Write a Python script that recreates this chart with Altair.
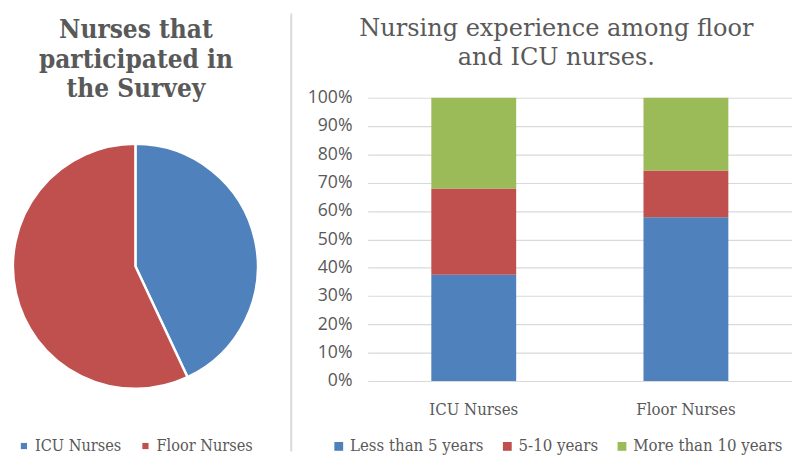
import altair as alt
import pandas as pd

# ---- data ----
pie_categories = ["ICU Nurses", "Floor Nurses"]
pie_values = [43, 57]

bar_groups = ["ICU Nurses", "Floor Nurses"]
exp_levels = ["Less than 5 years", "5-10 years", "More than 10 years"]
icu_shares = [37.5, 30.5, 32.0]
floor_shares = [57.8, 16.5, 25.7]

pie_colors = ["#4f81bd", "#c0504d"]
bar_colors = ["#4f81bd", "#c0504d", "#9bbb59"]

SERIF_C = "DejaVu Serif Condensed"
SERIF = "DejaVu Serif"
SANS = "Open Sans"
TXT = "#595959"
GRID = "#d9d9d9"

pie_df = pd.DataFrame({"group": pie_categories, "value": pie_values,
                       "order": list(range(len(pie_categories)))})

rows = []
for g, shares in zip(bar_groups, [icu_shares, floor_shares]):
    for i, (lvl, s) in enumerate(zip(exp_levels, shares)):
        rows.append({"group": g, "level": lvl, "share": s / 100.0, "order": i})
bar_df = pd.DataFrame(rows)

PLOT_H = 289

# ---- left: pie ----
PIE_W = 267
pie = alt.Chart(pie_df).mark_arc(outerRadius=125, stroke="white", strokeWidth=2.5).encode(
    theta=alt.Theta("value:Q", stack=True),
    color=alt.Color(
        "group:N",
        scale=alt.Scale(domain=pie_categories, range=pie_colors),
        legend=alt.Legend(
            title=None, orient="none", direction="horizontal",
            legendX=2, legendY=347, padding=0,
            symbolType="square", symbolSize=40, symbolStrokeWidth=0,
            labelFont=SERIF_C, labelFontSize=16.5, labelColor=TXT,
            labelOffset=3, columnPadding=16,
        ),
    ),
    order=alt.Order("order:Q"),
    x=alt.value(124),
    y=alt.value(172),
).properties(
    width=PIE_W, height=PLOT_H,
    title=alt.TitleParams(
        ["Nurses that", "participated in", "the Survey"],
        font=SERIF_C, fontSize=26.5, fontWeight="bold", color=TXT,
        lineHeight=30, anchor="middle", offset=-5, dx=-9,
    ),
)

# ---- middle: divider ----
divider = alt.Chart(pd.DataFrame({"d": [0]})).mark_rule(color=GRID, strokeWidth=2).encode(
    x=alt.value(1), y=alt.value(-86), y2=alt.value(361)
).properties(width=2, height=PLOT_H)

# ---- right: stacked 100% bars ----
BAR_W = 433
bars = alt.Chart(bar_df).mark_bar().encode(
    x=alt.X(
        "group:N", sort=bar_groups,
        scale=alt.Scale(paddingInner=0.6, paddingOuter=0.3),
        axis=alt.Axis(title=None, labelAngle=0, domain=False, ticks=False,
                      labelFont=SERIF_C, labelFontSize=17, labelColor=TXT, labelPadding=21),
    ),
    y=alt.Y(
        "share:Q", stack="zero", scale=alt.Scale(domain=[0, 1]),
        axis=alt.Axis(title=None, format=".0%", values=[i / 10 for i in range(11)],
                      domain=False, ticks=False, grid=True, gridColor=GRID, gridWidth=1.2,
                      labelFont=SANS, labelFontSize=18, labelColor=TXT, labelPadding=16),
    ),
    color=alt.Color(
        "level:N",
        scale=alt.Scale(domain=exp_levels, range=bar_colors),
        legend=alt.Legend(
            title=None, orient="none", direction="horizontal",
            legendX=-38, legendY=347, padding=0,
            symbolType="square", symbolSize=81, symbolStrokeWidth=0,
            labelFont=SERIF_C, labelFontSize=17, labelColor=TXT,
            labelOffset=3, columnPadding=15,
        ),
    ),
    order=alt.Order("order:Q"),
).properties(
    width=BAR_W, height=PLOT_H,
    title=alt.TitleParams(
        ["Nursing experience among floor", "and ICU nurses."],
        font=SERIF, fontSize=24.5, fontWeight="normal", color=TXT,
        lineHeight=30, anchor="middle", offset=19, dx=-24,
    ),
)

chart = alt.hconcat(pie, divider, bars, spacing=15).resolve_scale(
    color="independent"
).configure_view(stroke=None).properties(background="white", padding=0)

chart.save("out.html", embed_options={"renderer": "svg", "actions": False})
